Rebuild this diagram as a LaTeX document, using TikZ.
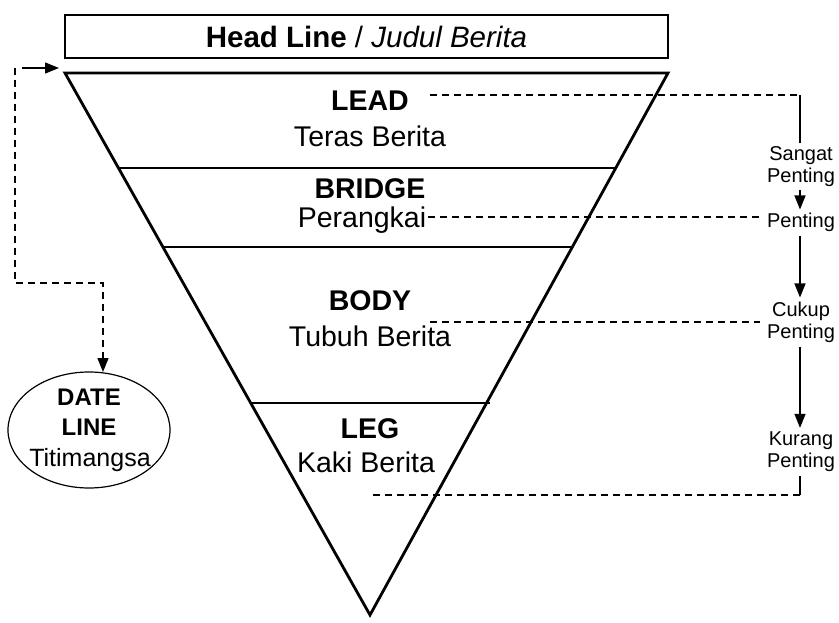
\documentclass[tikz,border=0pt]{standalone}
\usepackage{fontspec}
\setmainfont{Liberation Sans}
\usetikzlibrary{arrows.meta,shapes.geometric}
\begin{document}
\begin{tikzpicture}[x=1pt,y=-1pt,
  thick line/.style={line width=2.8pt},
  mainlbl/.style={font=\fontsize{28.5}{30}\selectfont, inner sep=0pt},
  sidelbl/.style={font=\fontsize{20}{22}\selectfont, align=center, inner sep=0pt},
  dashln/.style={line width=1.3pt, dash pattern=on 7pt off 5pt},
  solidln/.style={line width=1.3pt},
  arr/.style={line width=1.3pt, -{Triangle[length=14pt,width=11pt]}},
  darr/.style={line width=1.3pt, dash pattern=on 7pt off 5pt, -{Triangle[length=14pt,width=11pt]}}
]
\useasboundingbox (0,0) rectangle (839,623);
% head line box
\node[draw, thick line, minimum width=603pt, minimum height=43pt, inner sep=0pt,
  font=\fontsize{29.5}{31}\selectfont] (head) at (366.5,36.5)
  {\textbf{Head Line} / \textit{Judul Berita}};
% triangle
\draw[thick line, line join=miter] (65,73) -- (668,73) -- (370,615) -- cycle;
\draw[thick line] (118,168) -- (615,168);
\draw[thick line] (163,247) -- (572,247);
\draw[thick line] (251,403) -- (490,403);
% labels inside
\node[mainlbl] (lead) at (370,101) {\textbf{LEAD}};
\node[mainlbl] (teras) at (370,136) {Teras Berita};
\node[mainlbl] (bridge) at (370,189) {\textbf{BRIDGE}};
\node[mainlbl] (perangkai) at (362,220) {Perangkai};
\node[mainlbl] (body) at (370,301) {\textbf{BODY}};
\node[mainlbl] (tubuh) at (370,336) {Tubuh Berita};
\node[mainlbl] (leg) at (370,429) {\textbf{LEG}};
\node[mainlbl] (kaki) at (366,462) {Kaki Berita};
% side labels
\node[sidelbl] (sp) at (801,167) {Sangat\\Penting};
\node[sidelbl] (p) at (801,222) {Penting};
\node[sidelbl] (cp) at (801,322) {Cukup\\Penting};
\node[sidelbl] (kp) at (801,452) {Kurang\\Penting};
% right connectors
\coordinate (c1s) at (430,95);
\coordinate (c1e) at (800,95);
\draw[dashln] (c1s) -- (c1e);
\draw[solidln] (c1e) -- ([yshift=4pt]sp.north -| c1e);
\coordinate (c2s) at (428,217);
\draw[dashln] (c2s) -- ([xshift=-5pt]p.west |- c2s);
\coordinate (c3s) at (430,322);
\draw[dashln] (c3s) -- ([xshift=-7pt]cp.west |- c3s);
\coordinate (c4e) at (800,495);
\coordinate (c4s) at (370,495);
\draw[solidln] ([yshift=-4pt]kp.south -| c4e) -- (c4e);
\draw[dashln] (c4e) -- (c4s);
\draw[arr] ([yshift=-3pt]sp.south -| c1e) -- ([yshift=3pt]p.north -| c1e);
\draw[arr] ([yshift=-4pt]p.south -| c1e) -- ([yshift=4pt]cp.north -| c1e);
\draw[arr] ([yshift=-4pt]cp.south -| c1e) -- ([yshift=4pt]kp.north -| c1e);
% date line
\node[draw, ellipse, line width=1.2pt, minimum width=162pt, minimum height=116pt,
  inner sep=0pt] (dl) at (89,430) {};
\node[font=\fontsize{24}{26}\selectfont\bfseries, inner sep=0pt] (dl1) at (89,397) {DATE};
\node[font=\fontsize{24}{26}\selectfont\bfseries, inner sep=0pt] (dl2) at (89,427) {LINE};
\node[font=\fontsize{25}{28}\selectfont, inner sep=0pt, anchor=base] (dl3) at (90,466) {Titimangsa};
\coordinate (l0) at (15,68);
\coordinate (l1) at (15,283);
\coordinate (l2) at (103,283);
\coordinate (l3) at (103,372);
\coordinate (la) at (22,68);
\coordinate (lb) at (59,68);
\draw[darr] (l0) -- (l1) -- (l2) -- (l3);
\draw[arr] (la) -- (lb);
\end{tikzpicture}
\end{document}
